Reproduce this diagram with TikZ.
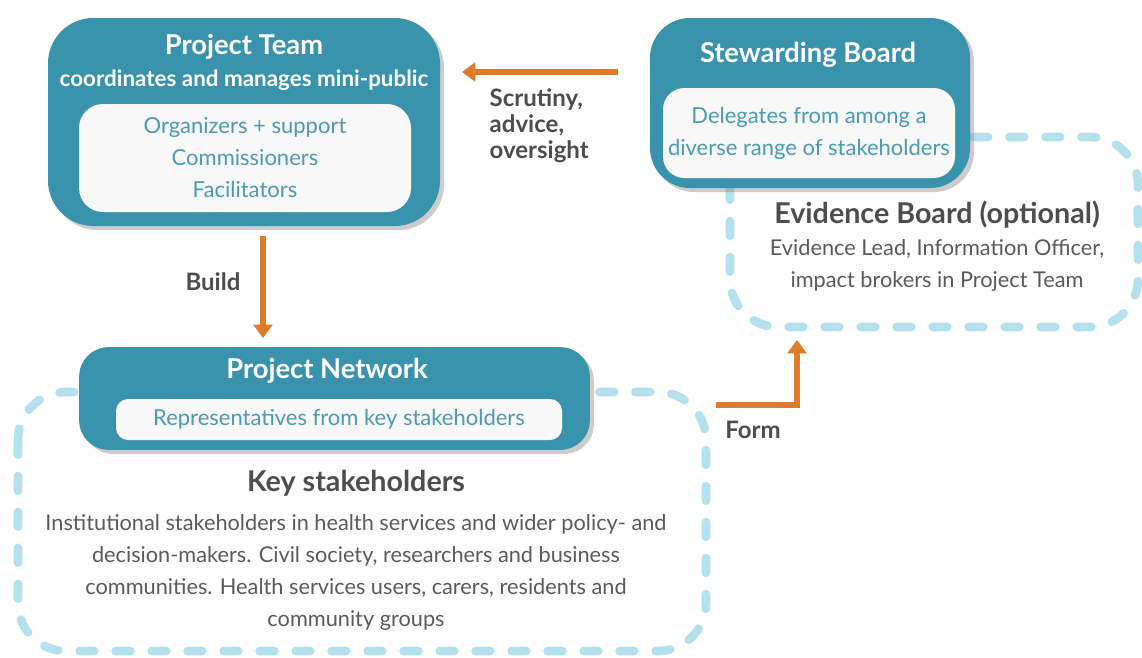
\documentclass[tikz,border=0pt]{standalone}
\usepackage{fontspec}
\setmainfont{Lato}
\usetikzlibrary{arrows.meta,shadows}

\definecolor{boxblue}{HTML}{3A93AD}
\definecolor{paper}{HTML}{F8F8F8}
\definecolor{listblue}{HTML}{4A9BB5}
\definecolor{dashblue}{HTML}{B5E1EE}
\definecolor{flowor}{HTML}{E07B29}
\definecolor{darktext}{HTML}{4D4D4D}
\definecolor{bodytext}{HTML}{5A5A5A}

\tikzset{
  outerbox/.style={fill=boxblue, rounded corners=30pt, inner sep=0pt,
    drop shadow={shadow xshift=3pt, shadow yshift=-3pt, opacity=.4}},
  innerbox/.style={fill=paper, rounded corners=18pt, inner sep=0pt},
  inlist/.style={text=listblue, align=center, font=\fontsize{16.5}{24}\selectfont},
  head/.style={text=white, font=\bfseries\fontsize{20.5}{24}\selectfont},
  subhead/.style={text=white, font=\bfseries\fontsize{16.8}{20}\selectfont},
  bighead/.style={text=darktext, font=\bfseries\fontsize{21.5}{25}\selectfont},
  body/.style={text=bodytext, align=center, font=\fontsize{16.3}{24}\selectfont},
  lbl/.style={text=darktext, font=\bfseries\fontsize{18}{19.5}\selectfont},
  dashbox/.style={draw=dashblue, line width=6.5pt, line cap=round,
    dash pattern=on 11pt off 16pt, rounded corners=36pt},
  flow/.style={draw=flowor, line width=5pt,
    -{Triangle[length=10pt, width=14pt]}}
}

\begin{document}
\begin{tikzpicture}[x=0.75pt, y=-0.75pt]
  \useasboundingbox (0,0) rectangle (1142,657);
  % dashed groups behind the boxes
  \draw[dashbox] (730,137) rectangle (1138,327);
  \draw[dashbox] (18,392) rectangle (706,651);

  % project team
  \node[outerbox, rounded corners=34pt, minimum width=294pt, minimum height=156pt] (pteam) at (244,122) {};
  \node[head] (pteamt) at (244,47) {Project Team};
  \node[subhead] (pteams) at (244,80) {coordinates and manages mini-public};
  \node[innerbox, inlist, minimum width=249pt, minimum height=81pt] (pteamin) at (245,158)
    {Organizers + support\\Commissioners\\Facilitators};

  % stewarding board
  \node[outerbox, minimum width=240pt, minimum height=127.5pt] (steward) at (810,103) {};
  \node[head] (stewardt) at (808,55) {Stewarding Board};
  \node[innerbox, inlist, rounded corners=16pt, minimum width=219pt, minimum height=67.5pt] (stewardin) at (809,133)
    {Delegates from among a\\diverse range of stakeholders};

  % evidence board
  \node[bighead] (evid) at (937,215) {Evidence Board (optional)};
  \node[body] (evidt) at (937,265) {Evidence Lead, Information Officer,\\impact brokers in Project Team};

  % project network
  \node[outerbox, rounded corners=22pt, minimum width=383pt, minimum height=77pt] (network) at (334.5,398.5) {};
  \node[head] (networkt) at (327,371) {Project Network};
  \node[innerbox, inlist, rounded corners=9pt, minimum width=334.5pt, minimum height=30.75pt] (networkin) at (339,419.5)
    {Representatives from key stakeholders};

  % key stakeholders
  \node[bighead] (keyt) at (356,483) {Key stakeholders};
  \node[body] (keyb) at (356,572) {Institutional stakeholders in health services and wider policy- and\\
    decision-makers. Civil society, researchers and business\\
    communities. Health services users, carers, residents and\\
    community groups};

  % arrows
  \coordinate (scrA) at (618,72);
  \coordinate (scrB) at (462,72);
  \draw[flow] (scrA) -- (scrB);
  \node[lbl, align=left, anchor=west] (scrl) at (485,126) {Scrutiny,\\advice,\\oversight};

  \coordinate (bldA) at (263,236);
  \coordinate (bldB) at (263,338);
  \draw[flow] (bldA) -- (bldB);
  \node[lbl] (bldl) at (213,282) {Build};

  \coordinate (frmA) at (716,405);
  \coordinate (frmB) at (797,340);
  \draw[flow] (frmA) -| (frmB);
  \node[lbl] (frml) at (753,430) {Form};
\end{tikzpicture}
\end{document}
